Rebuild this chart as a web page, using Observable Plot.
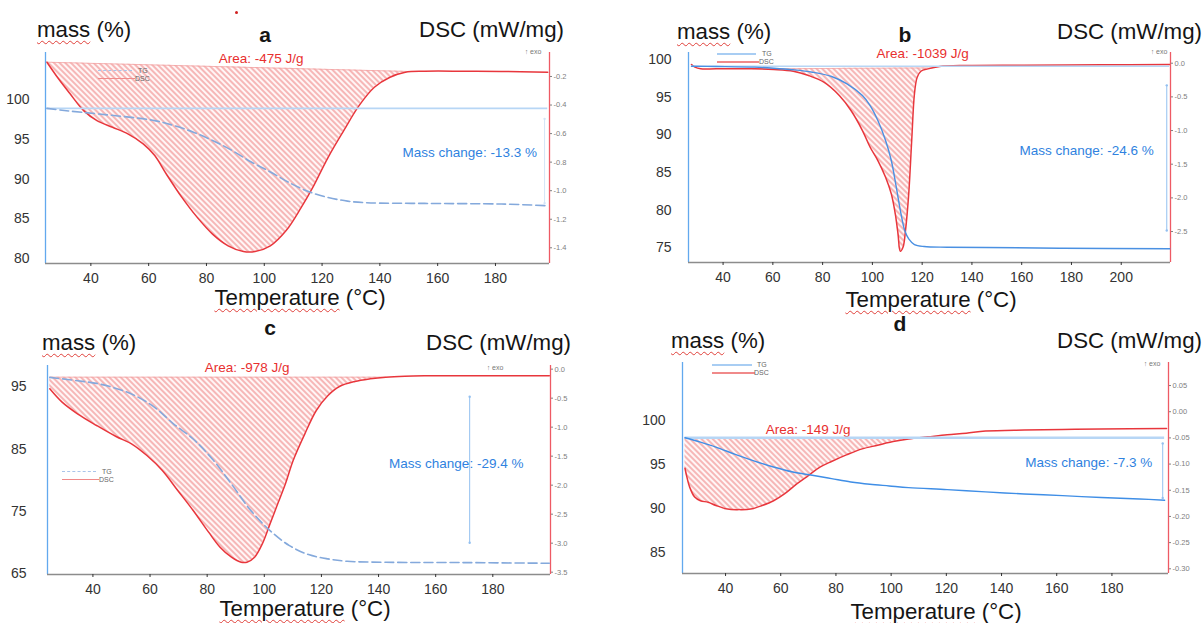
<!DOCTYPE html>
<html><head><meta charset="utf-8">
<script src="https://cdn.jsdelivr.net/npm/d3@7"></script>
<script src="https://cdn.jsdelivr.net/npm/@observablehq/plot@0.6"></script>
<style>
body{margin:0;background:#fff;font-family:"Liberation Sans",Arial,sans-serif;}
#root{position:relative;width:1204px;height:623px;overflow:hidden;background:#fff;}
.panel{position:absolute;}
.panel svg{position:absolute;left:0;top:0;}
.t{position:absolute;white-space:nowrap;line-height:1;color:#151515;}
.sq{text-decoration:underline wavy #e0403a;text-decoration-thickness:1px;text-underline-offset:3px;}
.lg{position:absolute;height:0;}
</style></head><body><div id="root"></div>
<script>
// ---------------- DATA ----------------
// Panel a
const aDscT = [24.8,28.8,32.8,37.5,42.1,47.5,52.8,58.1,62.1,66.1,71.5,76.8,82.1,87.5,92.8,96.8,102.1,107.5,112.8,116.8,122.1,127.5,132.8,138.1,143.5,148.8,155.5,168.8,182.0,198.1];
const aDsc  = [-0.10,-0.216,-0.321,-0.439,-0.509,-0.556,-0.602,-0.672,-0.754,-0.883,-1.047,-1.187,-1.304,-1.386,-1.426,-1.426,-1.386,-1.281,-1.117,-0.977,-0.766,-0.579,-0.404,-0.275,-0.205,-0.170,-0.163,-0.163,-0.165,-0.170];
const aTgT  = [24.8,31.5,42.8,62.1,68.8,75.5,82.1,88.8,95.5,102.1,108.8,115.5,122.1,128.8,135.5,155.5,182.1,198.1];
const aTg   = [98.92,98.63,98.21,97.38,96.75,95.92,94.88,93.63,92.17,90.92,89.54,88.42,87.71,87.25,87.04,86.96,86.88,86.67];
const aXTicks = [40,60,80,100,120,140,160,180];
const aMassTicks = [80,85,90,95,100];
const aDscTicks = [-0.2,-0.4,-0.6,-0.8,-1.0,-1.2,-1.4];

// Panel b
const bDscT = [27.3,28.7,31.0,37.2,52.7,60.4,68.2,74.4,80.5,86.7,91.4,96.0,99.1,102.2,105.3,107.6,109.2,110.3,111.2,112.3,113.3,114.6,115.8,116.9,118.0,119.5,122.3,127.0,137.8,161.0,192.0,219.5];
const bDsc  = [-0.019,-0.059,-0.084,-0.084,-0.084,-0.094,-0.119,-0.183,-0.282,-0.480,-0.703,-1.0,-1.248,-1.446,-1.694,-1.941,-2.238,-2.535,-2.793,-2.734,-2.486,-1.941,-1.149,-0.455,-0.208,-0.119,-0.084,-0.049,-0.034,-0.030,-0.024,-0.019];
const bTgT  = [27.3,37.2,52.7,60.4,68.2,75.9,83.6,89.8,96.0,99.1,102.2,105.3,107.6,109.6,111.5,113.0,114.6,116.9,120.8,130.1,145.5,176.5,219.5];
const bTg   = [99.15,99.11,99.02,98.88,98.67,98.35,97.78,96.81,95.25,93.92,91.93,89.27,86.61,83.06,79.52,77.30,76.20,75.44,75.17,75.08,75.04,74.95,74.87];
const bXTicks = [40,60,80,100,120,140,160,180,200];
const bMassTicks = [75,80,85,90,95,100];
const bDscTicks = [0,-0.5,-1.0,-1.5,-2.0,-2.5];

// Panel c
const cDscT = [24.9,29.2,34.6,41.3,48.1,53.5,58.9,64.3,69.7,75.1,80.5,84.5,88.5,91.9,93.9,96.6,99.3,102.0,104.7,107.4,110.1,114.2,118.2,122.3,126.3,131.7,137.1,142.5,149.2,156.0,169.5,199.8];
const cDsc  = [-0.339,-0.569,-0.770,-0.971,-1.161,-1.287,-1.489,-1.747,-2.092,-2.437,-2.810,-3.069,-3.241,-3.328,-3.328,-3.241,-3.011,-2.667,-2.322,-1.977,-1.575,-1.115,-0.713,-0.454,-0.299,-0.213,-0.167,-0.138,-0.121,-0.115,-0.115,-0.115];
const cTgT  = [24.9,34.6,41.3,48.1,54.8,61.6,68.3,75.1,81.8,88.5,95.3,102.0,108.8,115.5,122.3,129.0,142.5,169.5,199.8];
const cTg   = [96.49,95.96,95.53,94.73,93.56,91.69,89.02,86.62,83.41,79.41,75.14,71.94,69.53,68.09,67.40,67.02,66.86,66.81,66.70];
const cXTicks = [40,60,80,100,120,140,160,180];
const cMassTicks = [65,75,85,95];
const cDscTicks = [0,-0.5,-1.0,-1.5,-2.0,-2.5,-3.0,-3.5];

// Panel d
const dDscT = [25.3,26.0,27.0,28.8,30.9,33.7,36.5,40.7,44.9,49.1,53.3,57.4,61.6,65.8,70.0,74.2,78.4,84.0,89.5,95.1,100.7,106.3,113.3,120.3,127.2,134.2,148.2,162.1,176.1,199.8];
const dDsc  = [-0.108,-0.125,-0.144,-0.163,-0.170,-0.173,-0.179,-0.186,-0.187,-0.186,-0.179,-0.170,-0.156,-0.138,-0.122,-0.106,-0.095,-0.082,-0.071,-0.064,-0.057,-0.052,-0.048,-0.044,-0.041,-0.037,-0.035,-0.034,-0.033,-0.032];
const dTgT  = [25.3,30.9,36.5,43.5,50.5,57.4,64.4,71.4,78.4,85.4,92.3,99.3,106.3,120.3,134.2,148.2,162.1,176.1,190.0,199.1];
const dTg   = [98.04,97.54,96.98,96.15,95.39,94.71,94.14,93.77,93.39,93.01,92.75,92.56,92.37,92.14,91.88,91.65,91.46,91.24,91.08,90.93];
const dXTicks = [40,60,80,100,120,140,160,180];
const dMassTicks = [85,90,95,100];
const dDscTicks = [0.05,0,-0.05,-0.10,-0.15,-0.20,-0.25,-0.30];

// Annotation values
const panelLetters = ["a","b","c","d"];
const areaLabels = ["Area: -475 J/g","Area: -1039 J/g","Area: -978 J/g","Area: -149 J/g"];
const massChangeLabels = ["Mass change: -13.3 %","Mass change: -24.6 %","Mass change: -29.4 %","Mass change: -7.3 %"];
// DSC integration baselines: [start T, start value, end T, end value]
const dscBaselines = [[24.8,-0.10,150,-0.165],[52,-0.084,124,-0.07],[24.9,-0.138,142.5,-0.138],[25.3,-0.05,110,-0.05]];
// TG reference level (mass %) and mass-change bar [T, from, to]
const massLevels = [98.92, 99.15, null, 98.04];
const massChangeBars = [[197,97.6,87.0],[218.3,96.6,77.3],[171.9,93.4,70.0],[198.4,97.4,91.2]];

// ---------------- LAYOUT / STYLE ----------------
const panels = [
  {svg:{left:0,top:40,w:600,h:250}, frame:{x0:45,x1:549,y0:52,y1:263},
   tDomain:[24.3,198.7], massDomain:[79.4,105.95], dscDomain:[-1.51,-0.032],
   dscT:aDscT, dsc:aDsc, tgT:aTgT, tg:aTg, xTicks:aXTicks, massTicks:aMassTicks, dscTicks:aDscTicks, digits:1,
   leftPad:16, tgColor:"#84a9dc", tgDash:"9,4", areaPos:[98.9,-0.074], mcPos:[171.1,93.4], mcColor:"#d2e4f7",
   titleY:30, letterX:265, letterY:34, massX:37, dscRight:564, tempX:300, tempY:298,
   legend:{x0:98,x1:132,y:70,tx:138}, exo:[533,51]},
  {svg:{left:604,top:40,w:600,h:250}, frame:{x0:688,x1:1170,y0:52,y1:262},
   tDomain:[26.1,219.8], massDomain:[73.05,100.97], dscDomain:[-2.96,0.159],
   dscT:bDscT, dsc:bDsc, tgT:bTgT, tg:bTg, xTicks:bXTicks, massTicks:bMassTicks, dscTicks:bDscTicks, digits:1,
   leftPad:17, tgColor:"#4a90e2", tgDash:null, areaPos:[120.2,0.144], mcPos:[186.1,87.9], mcColor:"#93c0f0",
   titleY:32, letterX:905, letterY:34, massX:677, dscRight:1202, tempX:931, tempY:300,
   legend:{x0:717,x1:756,y:53,tx:762}, exo:[1159,51]},
  {svg:{left:0,top:350,w:600,h:255}, frame:{x0:47,x1:550,y0:365,y1:574},
   tDomain:[24.1,200.2], massDomain:[64.9,98.4], dscDomain:[-3.54,0.063],
   dscT:cDscT, dsc:cDsc, tgT:cTgT, tg:cTg, xTicks:cXTicks, massTicks:cMassTicks, dscTicks:cDscTicks, digits:1,
   leftPad:21, tgColor:"#84a9dc", tgDash:"9,4", areaPos:[94.0,0.03], mcPos:[167.2,82.7], mcColor:"#93c0f0",
   titleY:343, letterX:270, letterY:327, massX:42, dscRight:571, tempX:305, tempY:609,
   legend:{x0:62,x1:96,y:471,tx:102}, exo:[495,367]},
  {svg:{left:604,top:350,w:600,h:255}, frame:{x0:682,x1:1168,y0:362,y1:573},
   tDomain:[24.4,200.5], massDomain:[82.6,106.6], dscDomain:[-0.309,0.094],
   dscT:dDscT, dsc:dDsc, tgT:dTgT, tg:dTg, xTicks:dXTicks, massTicks:dMassTicks, dscTicks:dDscTicks, digits:2,
   leftPad:17, tgColor:"#3f8ee6", tgDash:null, areaPos:[69.9,-0.034], mcPos:[171.6,95.2], mcColor:"#93c0f0",
   titleY:341, letterX:900, letterY:323, massX:671, dscRight:1202, tempX:936, tempY:612,
   legend:{x0:712,x1:752,y:364,tx:757}, exo:[1152,363]}
];

const root = document.getElementById("root");
const FONT = "Liberation Sans, Arial, sans-serif";
const TITLE = 22.3;

function rows(T, V) { return T.map((t, i) => ({t, v: V[i]})); }

function addText(html, x, y, size, anchor, extra) {
  const el = document.createElement("div");
  el.className = "t";
  el.innerHTML = html;
  el.style.left = x + "px";
  el.style.top = y + "px";
  el.style.fontSize = size + "px";
  const tx = anchor === "middle" ? "-50%" : anchor === "end" ? "-100%" : "0";
  el.style.transform = `translate(${tx},-50%)`;
  if (extra) Object.assign(el.style, extra);
  root.appendChild(el);
  return el;
}

function addLine(x0, x1, y, color, dashed, w) {
  const el = document.createElement("div");
  el.className = "lg";
  el.style.left = x0 + "px";
  el.style.top = y + "px";
  el.style.width = (x1 - x0) + "px";
  el.style.borderTop = `${w || 1}px ${dashed ? "dashed" : "solid"} ${color}`;
  root.appendChild(el);
}

function addHatch(svg, id) {
  const ns = "http://www.w3.org/2000/svg";
  const defs = document.createElementNS(ns, "defs");
  defs.innerHTML = `<pattern id="${id}" patternUnits="userSpaceOnUse" width="4" height="4" patternTransform="rotate(-45)">
    <rect width="4" height="4" fill="#fff6f6"/>
    <line x1="2" y1="-1" x2="2" y2="5" stroke="#f4a2a2" stroke-width="1.5"/></pattern>`;
  svg.insertBefore(defs, svg.firstChild);
}

panels.forEach((p, k) => {
  const div = document.createElement("div");
  div.className = "panel";
  Object.assign(div.style, {left: p.svg.left + "px", top: p.svg.top + "px", width: p.svg.w + "px", height: p.svg.h + "px"});
  root.appendChild(div);

  const common = {
    width: p.svg.w, height: p.svg.h,
    marginLeft: p.frame.x0 - p.svg.left,
    marginRight: p.svg.left + p.svg.w - p.frame.x1,
    marginTop: p.frame.y0 - p.svg.top,
    marginBottom: p.svg.top + p.svg.h - p.frame.y1,
    style: {background: "transparent", overflow: "visible", fontFamily: FONT, maxWidth: "none"}
  };

  const [bt0, bv0, bt1, bv1] = dscBaselines[k];
  const baseAt = t => bv0 + (bv1 - bv0) * (t - bt0) / (bt1 - bt0);
  const dscRows = rows(p.dscT, p.dsc);
  const hatchRows = dscRows
    .filter(d => d.t >= bt0 && d.t <= bt1)
    .map(d => ({t: d.t, b: baseAt(d.t), v: Math.min(d.v, baseAt(d.t))}));
  const hid = "hatch-" + panelLetters[k];

  const dscPlot = Plot.plot({
    ...common,
    x: {domain: p.tDomain, axis: null},
    y: {domain: p.dscDomain},
    marks: [
      Plot.areaY(hatchRows, {x: "t", y1: "b", y2: "v", curve: "catmull-rom", fill: `url(#${hid})`}),
      Plot.line([{t: bt0, v: bv0}, {t: bt1, v: bv1}], {x: "t", y: "v", stroke: "#f3a3a3", strokeWidth: 0.8}),
      Plot.line(dscRows, {x: "t", y: "v", curve: "catmull-rom", stroke: "#e8363c", strokeWidth: 1.5}),
      Plot.ruleX([p.tDomain[1]], {stroke: "#ee5a64", strokeWidth: 1.3}),
      Plot.axisY(p.dscTicks, {anchor: "right", tickSize: 2, tickPadding: 2, fontSize: 7.5, color: "#808080",
        tickFormat: d => d.toFixed(p.digits), label: null}),
      Plot.text([{t: p.areaPos[0], v: p.areaPos[1], s: areaLabels[k]}],
        {x: "t", y: "v", text: "s", fill: "#e8302f", fontSize: 13.5})
    ]
  });
  addHatch(dscPlot, hid);
  div.appendChild(dscPlot);

  const tgRows = rows(p.tgT, p.tg);
  const [mcT, mc0, mc1] = massChangeBars[k];
  const massMarks = [];
  if (massLevels[k] != null) {
    massMarks.push(Plot.ruleY([{v: massLevels[k], x1: p.tgT[0], x2: p.tgT[p.tgT.length - 1]}],
      {y: "v", x1: "x1", x2: "x2", stroke: "#b7d6f5", strokeWidth: k === 3 ? 2.5 : 1.6}));
  }
  massMarks.push(
    Plot.line(tgRows, {x: "t", y: "v", curve: "catmull-rom", stroke: p.tgColor, strokeWidth: p.tgDash ? 1.6 : 1.4,
      strokeDasharray: p.tgDash || undefined}),
    Plot.ruleX([{t: mcT, y1: mc0, y2: mc1}], {x: "t", y1: "y1", y2: "y2", stroke: p.mcColor, strokeWidth: 1}),
    Plot.dot([{t: mcT, v: mc0}, {t: mcT, v: mc1}], {x: "t", y: "v", r: 1.2, fill: p.mcColor}),
    Plot.text([{t: p.mcPos[0], v: p.mcPos[1], s: massChangeLabels[k]}],
      {x: "t", y: "v", text: "s", fill: "#2f82e0", fontSize: 13.5}),
    Plot.ruleX([p.tDomain[0]], {stroke: "#62a9ee", strokeWidth: 1.3}),
    Plot.ruleY([p.massDomain[0]], {stroke: "#8c8c8c", strokeWidth: 1.4}),
    Plot.axisX(p.xTicks, {tickSize: 3, tickPadding: 7, fontSize: 14, color: "#333", label: null}),
    Plot.axisY(p.massTicks, {anchor: "left", tickSize: 0, tickPadding: p.leftPad, fontSize: 14, color: "#333", label: null})
  );
  const massPlot = Plot.plot({
    ...common,
    x: {domain: p.tDomain},
    y: {domain: p.massDomain},
    marks: massMarks
  });
  div.appendChild(massPlot);

  // Titles (HTML, around the SVG)
  addText('<span class="sq">mass</span> (%)', p.massX, p.titleY, TITLE, "start");
  addText(panelLetters[k], p.letterX, p.letterY, 21, "middle", {fontWeight: "bold"});
  addText('DSC (mW/mg)', p.dscRight, p.titleY, TITLE, "end");
  addText('<span class="sq">Temperature</span> (°C)', p.tempX, p.tempY, TITLE, "middle");
  addText('↑ exo', p.exo[0], p.exo[1], 7, "middle", {color: "#777"});

  // tiny legend
  const L = p.legend;
  addLine(L.x0, L.x1, L.y, p.tgDash ? "#a9c4ea" : "#a8cdf3", !!p.tgDash, p.tgDash ? 1 : 2);
  addLine(L.x0, L.x1 + 3, L.y + 8, "#f08a8a", false, p.tgDash ? 1 : 2);
  addText("TG", L.tx, L.y, 7, "start", {color: "#666"});
  addText("DSC", L.tx - 3, L.y + 8, 7, "start", {color: "#666"});
});

// stray red dot at top of panel a
const dot = document.createElement("div");
Object.assign(dot.style, {position: "absolute", left: "235px", top: "11px", width: "3px", height: "3px", borderRadius: "50%", background: "#d02020"});
root.appendChild(dot);
</script>
</body></html>
